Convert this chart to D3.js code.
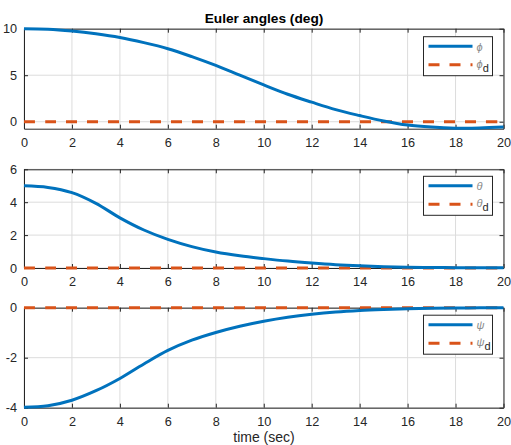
<!DOCTYPE html>
<html><head><meta charset="utf-8">
<script src="https://cdn.jsdelivr.net/npm/d3@7/dist/d3.min.js"></script>
<style>body{margin:0;background:#fff;} text{font-family:"Liberation Sans",Arial,sans-serif;}</style>
</head><body>
<svg id="c" width="511" height="445"></svg>
<script>
const time = [0,1,2,3,4,5,6,7,8,9,10,11,12,13,14,15,16,17,18,19,20];
const phi   = [10,9.95,9.75,9.45,9.05,8.5,7.85,7.0,6.05,5.0,3.95,2.95,2.1,1.3,0.66,0.08,-0.36,-0.58,-0.69,-0.68,-0.58];
const theta = [5,4.9,4.58,3.93,3.05,2.31,1.74,1.3,0.97,0.74,0.57,0.42,0.3,0.2,0.13,0.08,0.05,0.03,0.02,0.015,0.01];
const psi   = [-3.98,-3.92,-3.70,-3.32,-2.83,-2.25,-1.71,-1.3,-0.99,-0.74,-0.54,-0.38,-0.26,-0.17,-0.11,-0.07,-0.04,-0.02,-0.01,-0.005,0];
const desired = [0,0,0,0,0,0,0,0,0,0,0,0,0,0,0,0,0,0,0,0,0];
const xTicks = [0,2,4,6,8,10,12,14,16,18,20];
const panels = [
  {name:"\u03d5", values:phi, domain:[-0.75,10], yTicks:[0,5,10], top:28.7, bottom:128.7},
  {name:"\u03b8", values:theta, domain:[0,6], yTicks:[0,2,4,6], top:169.3, bottom:268},
  {name:"\u03c8", values:psi, domain:[-4,0], yTicks:[-4,-2,0], top:307.7, bottom:407.7}
];
const blue="#0072BD", orange="#D95319", axc="#262626";
const svg=d3.select("#c");
const x=d3.scaleLinear().domain([0,20]).range([24,503.5]);
panels.forEach((p,pi)=>{
  const y=d3.scaleLinear().domain(p.domain).range([p.bottom,p.top]);
  const g=svg.append("g");
  g.selectAll(".gx").data(xTicks).join("line").attr("x1",d=>x(d)).attr("x2",d=>x(d))
    .attr("y1",p.top).attr("y2",p.bottom).attr("stroke","#dcdcdc").attr("stroke-width",1);
  g.selectAll(".gy").data(p.yTicks).join("line").attr("y1",d=>y(d)).attr("y2",d=>y(d))
    .attr("x1",x(0)).attr("x2",x(20)).attr("stroke","#dcdcdc").attr("stroke-width",1);
  const fmt=d=>String(d);
  const xa=d3.axisBottom(x).tickValues(xTicks).tickFormat(fmt).tickSizeInner(-4).tickSizeOuter(0).tickPadding(9);
  const ya=d3.axisLeft(y).tickValues(p.yTicks).tickFormat(fmt).tickSizeInner(-4).tickSizeOuter(0).tickPadding(7);
  const gx=g.append("g").attr("transform",`translate(0,${p.bottom})`).call(xa);
  const gy=g.append("g").attr("transform",`translate(${x(0)},0)`).call(ya);
  const gt=g.append("g").attr("transform",`translate(0,${p.top})`).call(d3.axisTop(x).tickValues(xTicks).tickSizeInner(-4).tickSizeOuter(0).tickFormat(""));
  const gr=g.append("g").attr("transform",`translate(${x(20)},0)`).call(d3.axisRight(y).tickValues(p.yTicks).tickSizeInner(-4).tickSizeOuter(0).tickFormat(""));
  [gx,gy,gt,gr].forEach(a=>{a.select(".domain").attr("stroke",axc);a.selectAll(".tick line").attr("stroke",axc);
    a.selectAll("text").attr("fill",axc).style("font-size","12.7px").style("font-family","'Liberation Sans',Arial,sans-serif");});
  const line=d3.line().x((d,i)=>x(time[i])).y(d=>y(d)).curve(d3.curveCatmullRom.alpha(0.5));
  g.append("path").datum(desired).attr("d",line).attr("fill","none").attr("stroke",orange)
    .attr("stroke-width",3).attr("stroke-dasharray","11,10");
  g.append("path").datum(p.values).attr("d",line).attr("fill","none").attr("stroke",blue).attr("stroke-width",3);
  const lx=423.5, ly=p.top+(pi===0?8:(pi===1?7:7.5)), lw=69, lh=39;
  const lg=g.append("g");
  lg.append("rect").attr("x",lx).attr("y",ly).attr("width",lw).attr("height",lh).attr("fill","#fff").attr("stroke",axc).attr("stroke-width",1);
  lg.append("line").attr("x1",lx+5).attr("x2",lx+49).attr("y1",ly+9.5).attr("y2",ly+9.5).attr("stroke",blue).attr("stroke-width",3);
  lg.append("line").attr("x1",lx+5).attr("x2",lx+49).attr("y1",ly+28).attr("y2",ly+28).attr("stroke",orange).attr("stroke-width",3).attr("stroke-dasharray","11,10");
  lg.append("text").attr("x",lx+53).attr("y",ly+14).attr("fill","#8a8a8a").style("font-size","11px").style("font-style","italic").text(p.name);
  const t2=lg.append("text").attr("x",lx+53).attr("y",ly+31).attr("fill","#8a8a8a").style("font-size","11px");
  t2.append("tspan").style("font-style","italic").text(p.name);
  t2.append("tspan").attr("dy",4).attr("fill",axc).style("font-size","11px").text("d");
});
svg.append("text").attr("x",264).attr("y",23).attr("text-anchor","middle").attr("fill","#000")
  .style("font-size","13.7px").style("font-weight","bold").text("Euler angles (deg)");
svg.append("text").attr("x",264).attr("y",442).attr("text-anchor","middle").attr("fill",axc)
  .style("font-size","14px").text("time (sec)");
</script>
</body></html>
